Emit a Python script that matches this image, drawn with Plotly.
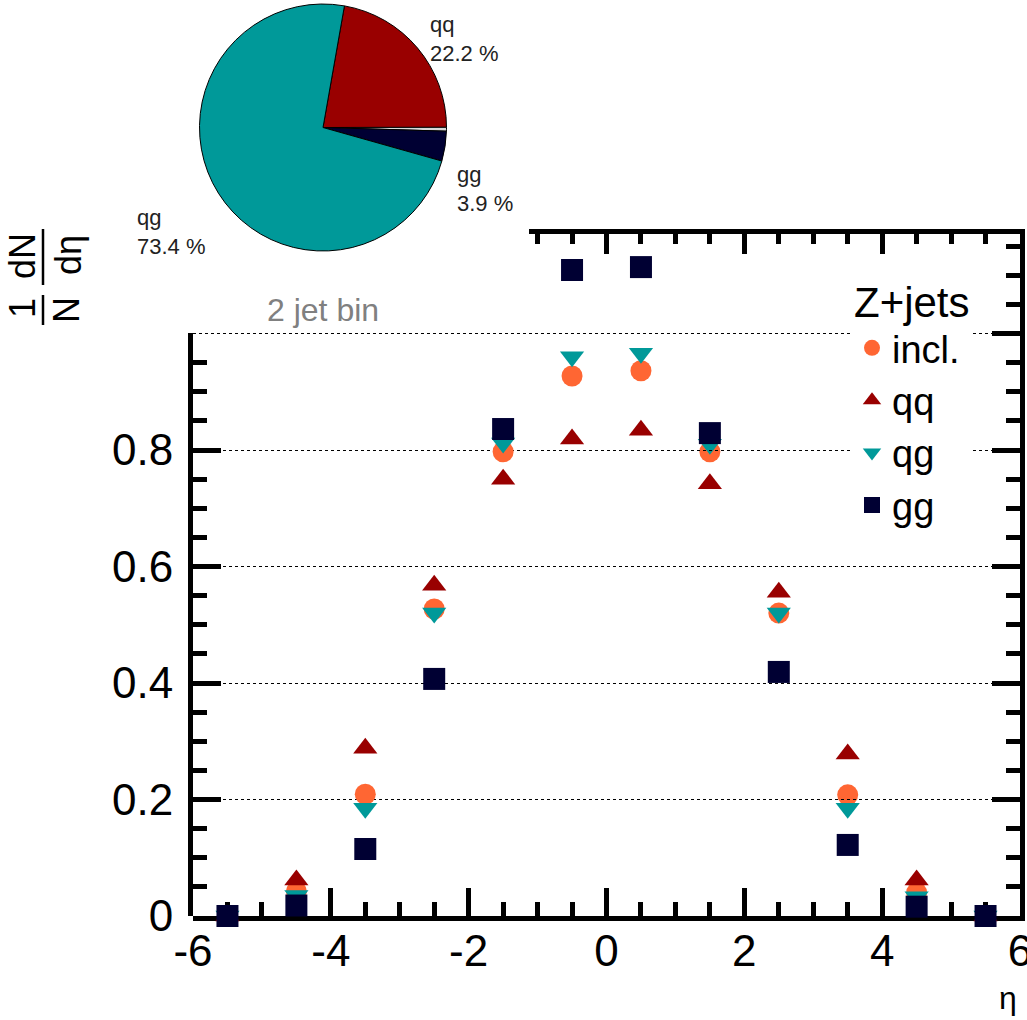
import plotly.graph_objects as go

# ---- data -------------------------------------------------------------
eta = [-5.5, -4.5, -3.5, -2.5, -1.5, -0.5, 0.5, 1.5, 2.5, 3.5, 4.5, 5.5]

incl = [0.0, 0.042, 0.209, 0.527, 0.797, 0.927, 0.936, 0.797, 0.520, 0.208, 0.040, 0.0]
qq   = [0.0, 0.062, 0.288, 0.568, 0.750, 0.819, 0.834, 0.742, 0.556, 0.278, 0.062, 0.0]
qg   = [0.0, 0.035, 0.185, 0.520, 0.812, 0.960, 0.966, 0.810, 0.520, 0.185, 0.033, 0.0]
gg   = [0.0, 0.018, 0.115, 0.407, 0.836, 1.109, 1.114, 0.829, 0.419, 0.122, 0.016, 0.0]

pie_labels = ["qq", "other", "gg", "qg"]
pie_values = [22.2, 0.5, 3.9, 73.4]

x_ticks = [-6, -4, -2, 0, 2, 4, 6]
x_ticktext = ["-6", "-4", "-2", "0", "2", "4", "6"]
y_ticks = [0, 0.2, 0.4, 0.6, 0.8, 1.0]
y_ticktext = ["0", "0.2", "0.4", "0.6", "0.8", ""]

# ---- geometry (pixels) ------------------------------------------------
W, H = 1027, 1020
PX_L, PX_R = 193, 1020      # frame left / right
PX_T, PX_B = 234, 916       # frame top / bottom
TOP_AXIS_START = 529        # top frame starts here (inset sits to its left)
LEFT_AXIS_TOP = 333         # left frame stops here

XMIN, XMAX = -6.0, 6.0
px_per_x = (PX_R - PX_L) / (XMAX - XMIN)
px_per_y = 582.5
YMAX = (PX_B - PX_T) / px_per_y


def fx(px):
    return px / W


def fy(py):
    return (H - py) / H


C_INCL = "#ff6633"
C_QQ = "#990000"
C_QG = "#009999"
C_GG = "#000033"
FONT = "Liberation Sans, Arial, sans-serif"

fig = go.Figure()

series = [
    ("incl.", incl, "circle", C_INCL, 21),
    ("qq", qq, "triangle-up", C_QQ, 21),
    ("qg", qg, "triangle-down", C_QG, 21),
    ("gg", gg, "square", C_GG, 22),
]
for name, vals, sym, col, size in series:
    fig.add_trace(go.Scatter(
        x=eta, y=vals, mode="markers", name=name,
        marker=dict(symbol=sym, color=col, size=size, line=dict(width=0)),
        cliponaxis=False, xaxis="x", yaxis="y",
    ))

# empty traces so the frame axes (right, top, left) get their own subplots
for xa, ya in [("x", "y2"), ("x2", "y"), ("x", "y3")]:
    fig.add_trace(go.Scatter(x=[], y=[], xaxis=xa, yaxis=ya,
                             showlegend=False, hoverinfo="skip"))

# inset pie of the subprocess fractions
fig.add_trace(go.Pie(
    labels=pie_labels, values=pie_values, sort=False,
    direction="clockwise", rotation=10,
    marker=dict(colors=[C_QQ, "#d8d8d8", C_GG, C_QG],
                line=dict(color="#000000", width=1)),
    textinfo="none", hoverinfo="label+percent", showlegend=False,
    domain=dict(x=[fx(199), fx(447)], y=[fy(251), fy(4)]),
))

axis_common = dict(
    showline=True, linecolor="black", linewidth=5,
    ticks="inside", tickcolor="black", tickwidth=5,
    zeroline=False, showgrid=False, mirror=False,
    layer="below traces", automargin=False,
)

fig.update_layout(
    width=W, height=H,
    margin=dict(l=0, r=0, t=0, b=0, autoexpand=False),
    paper_bgcolor="white", plot_bgcolor="rgba(0,0,0,0)",
    font=dict(family=FONT, color="black"),
    showlegend=True,
    xaxis=dict(
        domain=[fx(PX_L), fx(PX_R)], range=[XMIN, XMAX], anchor="y",
        tickvals=x_ticks, ticktext=x_ticktext, ticklen=28,
        minor=dict(dtick=0.5, ticklen=14, tickwidth=5, tickcolor="black", ticks="inside"),
        tickfont=dict(size=44, family=FONT), ticklabelstandoff=-8,
        ticklabeloverflow="allow",
        **axis_common,
    ),
    yaxis=dict(
        domain=[fy(PX_B), fy(PX_T)], range=[0, YMAX], anchor="x",
        showline=False, ticks="", showticklabels=False, zeroline=False,
        showgrid=True, gridcolor="black", gridwidth=1, griddash="dot",
        dtick=0.2, tick0=0, automargin=False,
    ),
    yaxis2=dict(
        overlaying="y", side="right", anchor="x", range=[0, YMAX],
        dtick=0.2, tick0=0, ticklen=28, showticklabels=False,
        minor=dict(dtick=0.05, ticklen=14, tickwidth=5, tickcolor="black", ticks="inside"),
        **axis_common,
    ),
    xaxis2=dict(
        domain=[fx(TOP_AXIS_START), fx(PX_R)],
        range=[XMIN + (TOP_AXIS_START - PX_L) / px_per_x, XMAX],
        anchor="y", side="top", dtick=2, tick0=0, ticklen=20,
        showticklabels=False,
        minor=dict(dtick=0.5, ticklen=10, tickwidth=5, tickcolor="black", ticks="inside"),
        **axis_common,
    ),
    yaxis3=dict(
        domain=[fy(PX_B), fy(LEFT_AXIS_TOP)],
        range=[0, (PX_B - LEFT_AXIS_TOP) / px_per_y], anchor="x", side="left",
        tickvals=y_ticks, ticktext=y_ticktext, ticklen=28,
        minor=dict(dtick=0.05, ticklen=14, tickwidth=5, tickcolor="black", ticks="inside"),
        tickfont=dict(size=44, family=FONT), ticklabelstandoff=6,
        **axis_common,
    ),
    legend=dict(
        x=fx(852), y=fy(262), xanchor="left", yanchor="top",
        bgcolor="white", borderwidth=0,
        font=dict(size=38, family=FONT, color="black"),
        title=dict(text="Z+jets", font=dict(size=42, family=FONT, color="black")),
        itemsizing="trace",
    ),
)

annotations = []

# pie slice labels
label_pos = {"qq": (428, 10), "gg": (455, 160), "qg": (135, 203)}
for lab, val in zip(pie_labels, pie_values):
    if lab not in label_pos:
        continue
    px, py = label_pos[lab]
    annotations.append(dict(
        x=fx(px), y=fy(py), xref="paper", yref="paper",
        xanchor="left", yanchor="top", align="left", showarrow=False,
        text=f"{lab}<br>{val:.1f} %",
        font=dict(size=22, family=FONT, color="#222222"),
    ))

annotations.append(dict(
    x=fx(323), y=fy(310), xref="paper", yref="paper", showarrow=False,
    xanchor="center", yanchor="middle",
    text="2 jet bin", font=dict(size=32, family=FONT, color="#808080"),
))

# x-axis title
annotations.append(dict(
    x=fx(1008), y=fy(998), xref="paper", yref="paper", showarrow=False,
    xanchor="center", yanchor="middle",
    text="η", font=dict(size=32, family=FONT, color="black"),
))

# y-axis title: (1/N) dN/dη, rotated
for txt, px, py in [("1", 22, 308), ("dN", 22, 256), ("N", 66, 310), ("dη", 68, 255)]:
    annotations.append(dict(
        x=fx(px), y=fy(py), xref="paper", yref="paper", showarrow=False,
        xanchor="center", yanchor="middle",
        text=txt, textangle=-90,
        font=dict(size=36, family=FONT, color="black"),
    ))

fig.update_layout(annotations=annotations)

# fraction bars of the y-axis title
for y0, y1 in [(295, 325), (229, 285)]:
    fig.add_shape(type="line", xref="paper", yref="paper",
                  x0=fx(43), x1=fx(43), y0=fy(y0), y1=fy(y1),
                  line=dict(color="black", width=2.5))

fig.write_html("out.html")
